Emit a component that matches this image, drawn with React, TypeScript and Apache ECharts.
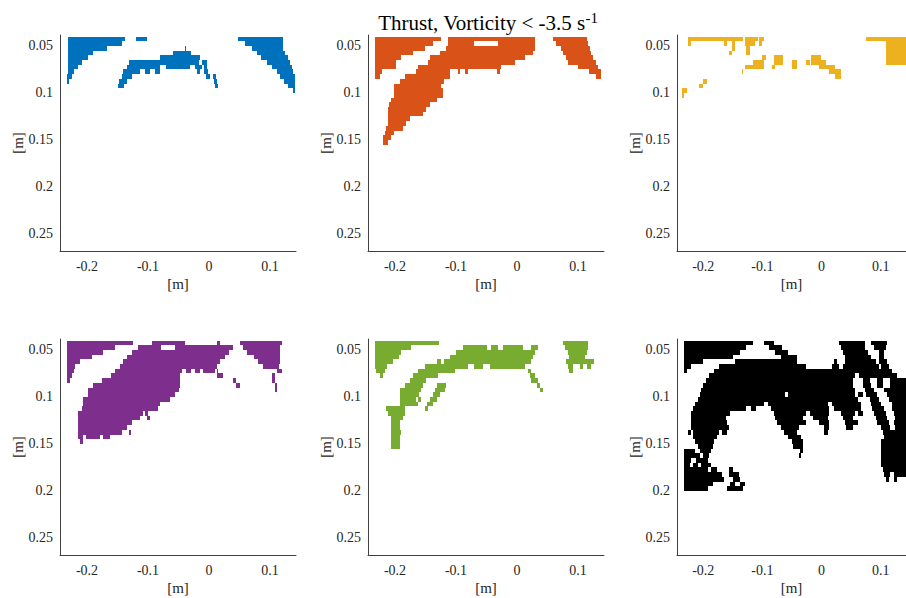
import React, { useEffect, useRef } from "react";
import * as echarts from "echarts";

// Thresholded vorticity masks, stored as horizontal runs.
// Each row: [row top y (m), x0, x1, x0, x1, ...]; a row is ROW metres tall.
const ROW = 0.005;

const X_MIN = -0.2443;
const X_MAX = 0.1426;
const Y_MIN = 0.0383;
const Y_MAX = 0.2681;

const xTicks = [-0.2, -0.1, 0, 0.1];
const yTicks = [0.05, 0.1, 0.15, 0.2, 0.25];

const colors = ["#0072BD", "#D95319", "#EDB120", "#7E2F8E", "#77AC30", "#000000"];

const blueRows: number[][] = [
  [0.04, -0.231, -0.138, -0.119, -0.101, 0.048, 0.121],
  [0.045, -0.232, -0.143, 0.059, 0.121],
  [0.05, -0.232, -0.168, -0.04, -0.037, 0.07, 0.121],
  [0.055, -0.232, -0.19, -0.059, -0.029, 0.078, 0.125],
  [0.06, -0.232, -0.198, -0.08, -0.015, 0.086, 0.13],
  [0.065, -0.232, -0.209, -0.132, -0.017, -0.012, -0.004, 0.095, 0.133],
  [0.07, -0.232, -0.214, -0.135, -0.08, -0.07, -0.031, -0.023, -0.012, -0.009, -0.004, 0.103, 0.136],
  [0.075, -0.232, -0.222, -0.141, -0.113, -0.105, -0.097, -0.089, -0.08, -0.02, -0.015, -0.008, -0.001, 0.111, 0.138],
  [0.08, -0.233, -0.225, -0.143, -0.127, -0.005, 0.001, 0.007, 0.011, 0.116, 0.141],
  [0.085, -0.233, -0.229, -0.147, -0.135, 0.008, 0.013, 0.123, 0.141],
  [0.09, -0.15, -0.14, 0.01, 0.015, 0.13, 0.141],
  [0.095, 0.138, 0.141],
];

const orangeRows: number[][] = [
  [0.04, -0.233, -0.124, -0.113, 0.029, 0.059, 0.114],
  [0.045, -0.233, -0.138, -0.113, -0.07, -0.031, 0.029, 0.064, 0.116],
  [0.05, -0.233, -0.151, -0.116, 0.029, 0.072, 0.119],
  [0.055, -0.233, -0.171, -0.127, 0.026, 0.075, 0.122],
  [0.06, -0.233, -0.19, -0.143, 0.013, 0.081, 0.125],
  [0.065, -0.233, -0.198, -0.146, -0.004, 0.084, 0.13],
  [0.07, -0.233, -0.198, -0.162, -0.026, 0.1, 0.133],
  [0.075, -0.233, -0.222, -0.165, -0.11, -0.097, -0.093, -0.086, -0.081, -0.033, -0.028, 0.118, 0.138],
  [0.08, -0.233, -0.225, -0.184, -0.11, 0.13, 0.138],
  [0.085, -0.192, -0.119],
  [0.09, -0.202, -0.124],
  [0.095, -0.202, -0.121],
  [0.1, -0.202, -0.121],
  [0.105, -0.206, -0.132],
  [0.11, -0.21, -0.143],
  [0.115, -0.212, -0.149],
  [0.12, -0.212, -0.154],
  [0.125, -0.212, -0.176],
  [0.13, -0.212, -0.182],
  [0.135, -0.214, -0.187],
  [0.14, -0.217, -0.201],
  [0.145, -0.22, -0.206],
  [0.15, -0.22, -0.211],
];

const yellowRows: number[][] = [
  [0.04, -0.225, -0.132, -0.13, -0.108, -0.105, -0.097, 0.075, 0.143],
  [0.045, -0.225, -0.22, -0.165, -0.16, -0.151, -0.147, -0.13, -0.113, -0.105, -0.1, 0.108, 0.143],
  [0.05, -0.151, -0.147, -0.127, -0.121, 0.108, 0.143],
  [0.055, -0.157, -0.151, -0.127, -0.121, 0.108, 0.143],
  [0.06, -0.101, -0.094, -0.08, -0.065, -0.018, -0.001, 0.108, 0.143],
  [0.065, -0.116, -0.097, -0.08, -0.065, -0.05, -0.041, -0.027, -0.019, -0.018, 0.007, 0.108, 0.143],
  [0.07, -0.13, -0.097, -0.083, -0.079, -0.05, -0.041, -0.004, 0.023],
  [0.075, -0.135, -0.132, 0.012, 0.032],
  [0.08, 0.023, 0.032],
  [0.085, -0.2, -0.194],
  [0.09, -0.207, -0.2],
  [0.095, -0.236, -0.228],
  [0.1, -0.236, -0.232],
];

const purpleRows: number[][] = [
  [0.04, -0.233, -0.124, -0.094, -0.039, 0.013, 0.018, 0.051, 0.119],
  [0.045, -0.233, -0.154, -0.116, -0.078, -0.056, 0.04, 0.056, 0.116],
  [0.05, -0.233, -0.173, -0.127, 0.032, 0.062, 0.116],
  [0.055, -0.233, -0.192, -0.135, 0.026, 0.073, 0.116],
  [0.06, -0.233, -0.212, -0.141, 0.018, 0.081, 0.116],
  [0.065, -0.233, -0.22, -0.146, 0.013, 0.089, 0.114],
  [0.07, -0.233, -0.222, -0.154, -0.045, -0.037, -0.029, -0.023, -0.015, -0.01, 0.01, 0.013, 0.015, 0.111, 0.119],
  [0.075, -0.233, -0.225, -0.16, -0.048, 0.013, 0.023, 0.103, 0.108],
  [0.08, -0.233, -0.228, -0.176, -0.048, 0.039, 0.045, 0.103, 0.108],
  [0.085, -0.19, -0.048, 0.045, 0.051, 0.108, 0.111],
  [0.09, -0.198, -0.05, 0.108, 0.111],
  [0.095, -0.198, -0.056],
  [0.1, -0.206, -0.064],
  [0.105, -0.206, -0.08],
  [0.11, -0.209, -0.083],
  [0.115, -0.214, -0.108, -0.105, -0.1],
  [0.12, -0.214, -0.113, -0.102, -0.097],
  [0.125, -0.214, -0.127],
  [0.13, -0.214, -0.135],
  [0.135, -0.214, -0.143, -0.132, -0.128],
  [0.14, -0.214, -0.206, -0.201, -0.179, -0.173, -0.162],
  [0.145, -0.211, -0.207],
];

const greenRows: number[][] = [
  [0.04, -0.233, -0.128, 0.075, 0.116],
  [0.045, -0.233, -0.173, -0.089, -0.05, -0.042, -0.031, -0.023, 0.01, 0.023, 0.034, 0.078, 0.116],
  [0.05, -0.233, -0.19, -0.1, 0.029, 0.084, 0.114],
  [0.055, -0.233, -0.194, -0.11, 0.026, 0.086, 0.111],
  [0.06, -0.233, -0.203, -0.132, -0.124, -0.119, 0.023, 0.081, 0.127],
  [0.065, -0.233, -0.213, -0.151, -0.08, -0.07, -0.056, -0.045, 0.013, 0.084, 0.092, 0.103, 0.108, 0.114, 0.122],
  [0.07, -0.231, -0.217, -0.162, -0.102, 0.018, 0.023, 0.086, 0.092],
  [0.075, -0.225, -0.22, -0.171, -0.13, 0.021, 0.029],
  [0.08, -0.176, -0.149, 0.023, 0.034],
  [0.085, -0.184, -0.154, -0.132, -0.116, 0.032, 0.037],
  [0.09, -0.192, -0.157, -0.135, -0.118, 0.037, 0.043],
  [0.095, -0.192, -0.16, -0.138, -0.127],
  [0.1, -0.192, -0.165, -0.162, -0.157, -0.143, -0.132],
  [0.105, -0.192, -0.162, -0.147, -0.138],
  [0.11, -0.214, -0.184, -0.151, -0.146],
  [0.115, -0.212, -0.184],
  [0.12, -0.206, -0.187],
  [0.125, -0.206, -0.192],
  [0.13, -0.206, -0.192],
  [0.135, -0.206, -0.19],
  [0.14, -0.206, -0.192],
  [0.145, -0.206, -0.192],
  [0.15, -0.206, -0.192],
];

const blackRows: number[][] = [
  [0.04, -0.233, -0.116, -0.097, -0.08, 0.029, 0.073, 0.083, 0.111],
  [0.045, -0.233, -0.127, -0.089, -0.067, 0.032, 0.073, 0.089, 0.108],
  [0.05, -0.233, -0.138, -0.078, -0.056, 0.037, 0.078, 0.097, 0.105],
  [0.055, -0.233, -0.149, -0.069, -0.042, 0.04, 0.083, 0.097, 0.105],
  [0.06, -0.233, -0.201, -0.146, -0.042, 0.021, 0.026, 0.04, 0.092, 0.097, 0.111],
  [0.065, -0.233, -0.22, -0.173, -0.026, 0.018, 0.029, 0.037, 0.097, 0.1, 0.114],
  [0.07, -0.233, -0.228, -0.182, 0.119],
  [0.075, -0.19, 0.056, 0.064, 0.127],
  [0.08, -0.195, 0.053, 0.07, 0.081, 0.094, 0.103, 0.116, 0.143],
  [0.085, -0.201, 0.053, 0.07, 0.083, 0.094, 0.103, 0.116, 0.143],
  [0.09, -0.203, 0.056, 0.073, 0.089, 0.105, 0.143],
  [0.095, -0.206, -0.061, -0.056, 0.056, 0.062, 0.07, 0.075, 0.094, 0.111, 0.143],
  [0.1, -0.209, 0.062, 0.081, 0.097, 0.114, 0.143],
  [0.105, -0.214, -0.097, -0.091, 0.01, 0.018, 0.067, 0.083, 0.1, 0.119, 0.143],
  [0.11, -0.217, -0.127, -0.119, -0.11, -0.086, 0.012, 0.021, 0.067, 0.086, 0.105, 0.119, 0.143],
  [0.115, -0.22, -0.154, -0.08, -0.026, -0.02, 0.012, 0.032, 0.056, 0.062, 0.07, 0.089, 0.108, 0.122, 0.143],
  [0.12, -0.22, -0.162, -0.078, -0.031, -0.015, 0.01, 0.037, 0.053, 0.092, 0.111, 0.124, 0.143],
  [0.125, -0.22, -0.16, -0.075, -0.026, -0.004, 0.012, 0.04, 0.062, 0.094, 0.114, 0.122, 0.143],
  [0.13, -0.22, -0.157, -0.069, -0.039, 0.004, 0.012, 0.042, 0.053, 0.1, 0.116, 0.124, 0.143],
  [0.135, -0.225, -0.22, -0.217, -0.173, -0.168, -0.16, -0.064, -0.042, 0.004, 0.01, 0.103, 0.143],
  [0.14, -0.217, -0.176, -0.056, -0.034, 0.105, 0.143],
  [0.145, -0.214, -0.182, -0.05, -0.031, 0.1, 0.143],
  [0.15, -0.209, -0.184, -0.048, -0.031, 0.1, 0.143],
  [0.155, -0.233, -0.214, -0.206, -0.187, -0.037, -0.031, 0.1, 0.143],
  [0.16, -0.233, -0.206, -0.201, -0.19, -0.039, -0.034, 0.1, 0.143],
  [0.165, -0.233, -0.22, -0.212, -0.192, 0.1, 0.143],
  [0.17, -0.233, -0.222, -0.217, -0.209, -0.203, -0.187, 0.1, 0.143],
  [0.175, -0.233, -0.192, -0.187, -0.176, -0.157, -0.149, 0.103, 0.143],
  [0.18, -0.233, -0.168, -0.157, -0.14, 0.105, 0.116, 0.122, 0.143],
  [0.185, -0.233, -0.165, -0.149, -0.138, 0.108, 0.114, 0.122, 0.127],
  [0.19, -0.233, -0.184, -0.154, -0.146, -0.138, -0.13],
  [0.195, -0.233, -0.192, -0.16, -0.132],
];

const masks = [blueRows, orangeRows, yellowRows, purpleRows, greenRows, blackRows];

// Panel placement in pixels (3 columns x 2 rows).
const colLeft = [60, 368, 677];
const rowTop = [35, 339];
const PANEL_W = 236;
const PANEL_H = 216;

const FONT = "'Liberation Serif', 'DejaVu Serif', serif";
const TEXT = "#262626";

function toRuns(rows: number[][]): number[][] {
  const out: number[][] = [];
  rows.forEach((r) => {
    for (let i = 1; i + 1 < r.length; i += 2) out.push([r[0], r[i], r[i + 1]]);
  });
  return out;
}

function fmt(v: number): string {
  return String(Math.round(v * 100) / 100);
}

export default function App() {
  const ref = useRef<HTMLDivElement>(null);

  useEffect(() => {
    if (!ref.current) return;
    const chart = echarts.init(ref.current, undefined, { renderer: "svg" });

    const grids: any[] = [];
    const xAxes: any[] = [];
    const yAxes: any[] = [];
    const series: any[] = [];
    const yNames: any[] = [];

    masks.forEach((rows, i) => {
      const col = i % 3;
      const row = Math.floor(i / 3);
      grids.push({
        left: colLeft[col],
        top: rowTop[row],
        width: PANEL_W,
        height: PANEL_H,
        containLabel: false,
      });
      xAxes.push({
        type: "value",
        gridIndex: i,
        min: X_MIN,
        max: X_MAX,
        name: "[m]",
        nameLocation: "middle",
        nameGap: 25,
        nameTextStyle: { fontFamily: FONT, fontSize: 15, color: TEXT },
        axisLine: { show: true, onZero: false, lineStyle: { color: "#404040", width: 1 } },
        axisTick: { show: false },
        splitLine: { show: false },
        axisLabel: {
          customValues: xTicks,
          formatter: fmt,
          fontFamily: FONT,
          fontSize: 14,
          color: TEXT,
          margin: 8,
        },
      });
      yAxes.push({
        type: "value",
        gridIndex: i,
        inverse: true,
        min: Y_MIN,
        max: Y_MAX,
        axisLine: { show: true, onZero: false, lineStyle: { color: "#404040", width: 1 } },
        axisTick: { show: false },
        splitLine: { show: false },
        axisLabel: {
          customValues: yTicks,
          formatter: fmt,
          fontFamily: FONT,
          fontSize: 14,
          color: TEXT,
          margin: 7,
        },
      });
      // vertical axis title, reading bottom to top
      yNames.push({
        type: "text",
        x: colLeft[col] - 42,
        y: rowTop[row] + PANEL_H / 2,
        rotation: Math.PI / 2,
        style: {
          text: "[m]",
          fontFamily: FONT,
          fontSize: 15,
          fill: TEXT,
          align: "center",
          verticalAlign: "middle",
        },
      });
      const color = colors[i];
      series.push({
        type: "custom",
        xAxisIndex: i,
        yAxisIndex: i,
        clip: true,
        silent: true,
        dimensions: ["y", "x0", "x1"],
        encode: { x: [1, 2], y: 0 },
        data: toRuns(rows),
        renderItem: (_params: any, api: any) => {
          const y = api.value(0);
          const a = api.coord([api.value(1), y]);
          const b = api.coord([api.value(2), y + ROW]);
          // snap to whole pixels so neighbouring rows share edges without seams
          const x0 = Math.round(Math.min(a[0], b[0]));
          const x1 = Math.round(Math.max(a[0], b[0]));
          const y0 = Math.round(Math.min(a[1], b[1]));
          const y1 = Math.round(Math.max(a[1], b[1]));
          return {
            type: "rect",
            shape: { x: x0, y: y0, width: Math.max(1, x1 - x0), height: Math.max(1, y1 - y0) },
            style: { fill: color },
          };
        },
      });
    });

    chart.setOption({
      animation: false,
      backgroundColor: "#ffffff",
      title: {
        text: "{a|Thrust, Vorticity < -3.5 s}{sup|-1}",
        left: 483,
        top: 5,
        textAlign: "center",
        textStyle: {
          fontWeight: "normal",
          rich: {
            a: { fontFamily: FONT, fontSize: 21, fontWeight: "normal", color: "#000000" },
            sup: {
              fontFamily: FONT,
              fontSize: 15,
              fontWeight: "normal",
              color: "#000000",
              padding: [0, 0, 11, 0],
            },
          },
        },
      },
      grid: grids,
      xAxis: xAxes,
      yAxis: yAxes,
      series,
      graphic: yNames,
    });

    return () => chart.dispose();
  }, []);

  return (
    <div
      ref={ref}
      style={{ position: "absolute", left: 0, top: 0, width: 906, height: 598 }}
    />
  );
}
